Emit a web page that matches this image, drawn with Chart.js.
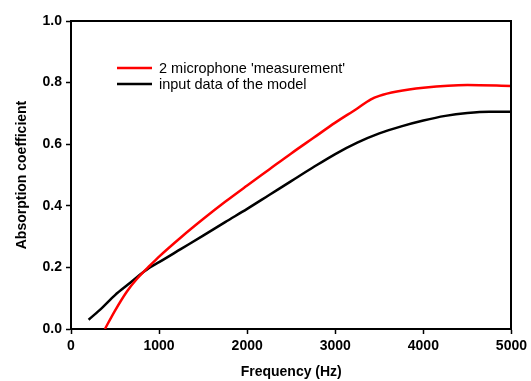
<!DOCTYPE html>
<html>
<head>
<meta charset="utf-8">
<script src="https://cdn.jsdelivr.net/npm/chart.js@4/dist/chart.umd.min.js"></script>
<style>
  html, body { margin: 0; padding: 0; background: #fff; }
  #wrap { width: 531px; height: 381px; }
</style>
</head>
<body>
<div id="wrap"><canvas id="chart" width="531" height="381"></canvas></div>
<script>
// values
const measFreq = [385, 500, 635, 750, 900, 1000, 1250, 1500, 1750, 2000, 2250, 2500, 2750, 3000, 3250, 3400, 3500, 3700, 4000, 4500, 5000]
const measAbs = [0.0, 0.06, 0.122, 0.163, 0.207, 0.235, 0.298, 0.357, 0.413, 0.466, 0.518, 0.57, 0.62, 0.67, 0.716, 0.745, 0.757, 0.771, 0.783, 0.792, 0.789]

const modelFreq = [200, 350, 500, 650, 800, 900, 1000, 1250, 1500, 1750, 2000, 2250, 2500, 2750, 3000, 3250, 3500, 3750, 4000, 4250, 4500, 4750, 5000]
const modelAbs = [0.03, 0.068, 0.11, 0.145, 0.18, 0.201, 0.217, 0.26, 0.303, 0.347, 0.39, 0.435, 0.48, 0.525, 0.568, 0.605, 0.635, 0.658, 0.677, 0.692, 0.701, 0.705, 0.705]

const xTicks = [0, 1000, 2000, 3000, 4000, 5000]
const yTicks = [0, 0.2, 0.4, 0.6, 0.8, 1.0]

const labels = ["2 microphone 'measurement'", "input data of the model"]
const colors = ["#ff0000", "#000000"]

const toPoints = (xs, ys) => xs.map((x, i) => ({ x, y: ys[i] }))

const boldFont = { family: "'Liberation Sans', Arial, sans-serif", size: 14, weight: "bold" }

// legend inside the plot, then the top and right sides of the box
const insideLegend = {
  id: "insideLegend",
  afterDraw(chart) {
    const { ctx } = chart
    ctx.save()
    ctx.font = "14.5px 'Liberation Sans', Arial, sans-serif"
    ctx.textBaseline = "middle"
    chart.data.datasets.forEach((ds, i) => {
      const ly = 68 + i * 16
      ctx.strokeStyle = ds.borderColor
      ctx.lineWidth = 2.5
      ctx.beginPath()
      ctx.moveTo(117, ly)
      ctx.lineTo(152, ly)
      ctx.stroke()
      ctx.fillStyle = "#000"
      ctx.fillText(ds.label, 159, ly + 1)
    })

    const xs = chart.scales.x
    const ys = chart.scales.y
    const top = Math.round(ys.top)
    const right = Math.round(xs.right)
    ctx.strokeStyle = "#000"
    ctx.lineWidth = 2
    ctx.beginPath()
    ctx.moveTo(Math.round(xs.left) - 1, top)
    ctx.lineTo(right, top)
    ctx.lineTo(right, Math.round(ys.bottom) + 1)
    ctx.stroke()
    ctx.restore()
  }
}

new Chart(document.getElementById("chart"), {
  type: "line",
  data: {
    datasets: [
      {
        label: labels[0],
        data: toPoints(measFreq, measAbs),
        borderColor: colors[0],
        borderWidth: 2.5,
        pointRadius: 0,
        cubicInterpolationMode: "monotone"
      },
      {
        label: labels[1],
        data: toPoints(modelFreq, modelAbs),
        borderColor: colors[1],
        borderWidth: 2.5,
        pointRadius: 0,
        cubicInterpolationMode: "monotone"
      }
    ]
  },
  options: {
    responsive: false,
    animation: false,
    layout: { padding: { top: 21, right: 19, left: 14, bottom: 0 } },
    plugins: {
      legend: { display: false },
      tooltip: { enabled: false }
    },
    scales: {
      x: {
        type: "linear",
        min: 0,
        max: 5000,
        afterBuildTicks: s => { s.ticks = xTicks.map(v => ({ value: v })) },
        afterFit: s => { s.height = 52 },
        ticks: { color: "#000", font: boldFont, padding: 4, maxRotation: 0, callback: v => String(v) },
        grid: { drawOnChartArea: false, tickLength: 5, tickColor: "#000", tickWidth: 1.5 },
        border: { color: "#000", width: 2 },
        title: { display: true, text: "Frequency (Hz)", color: "#000", font: boldFont, padding: { top: 4, bottom: 0 } }
      },
      y: {
        min: 0,
        max: 1,
        afterBuildTicks: s => { s.ticks = yTicks.map(v => ({ value: v })) },
        afterFit: s => { s.width = 57 },
        ticks: { color: "#000", font: boldFont, padding: 4, callback: v => v.toFixed(1) },
        grid: { drawOnChartArea: false, tickLength: 5, tickColor: "#000", tickWidth: 1.5 },
        border: { color: "#000", width: 2 },
        title: { display: true, text: "Absorption coefficient", color: "#000", font: boldFont, padding: { top: 0, bottom: 4 } }
      }
    }
  },
  plugins: [insideLegend]
})
</script>
</body>
</html>
